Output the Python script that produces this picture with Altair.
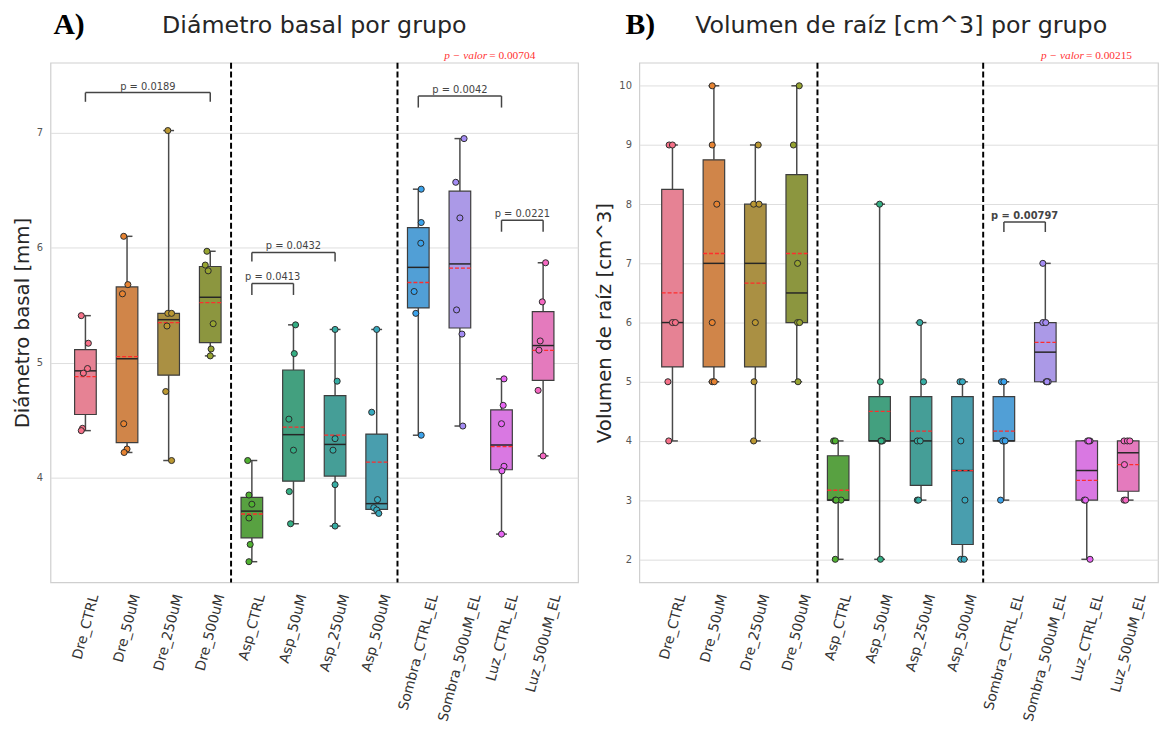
import json
import colorsys
import altair as alt
import pandas as pd

# ---------------- datos ----------------
grupos = ["Dre_CTRL", "Dre_50uM", "Dre_250uM", "Dre_500uM",
          "Asp_CTRL", "Asp_50uM", "Asp_250uM", "Asp_500uM",
          "Sombra_CTRL_EL", "Sombra_500uM_EL", "Luz_CTRL_EL", "Luz_500uM_EL"]

paleta = ['#f77189', '#e68332', '#bb9832', '#97a431', '#50b131', '#34af84',
          '#36ada4', '#38aabf', '#3ba3ec', '#a48cf4', '#e866f4', '#f668c2']

diametro = [
    [5.41, 5.17, 4.95, 4.91, 4.43, 4.41],
    [6.10, 5.68, 5.60, 4.47, 4.25, 4.22],
    [7.02, 5.43, 5.43, 5.32, 4.75, 4.15],
    [5.97, 5.85, 5.80, 5.34, 5.12, 5.06],
    [4.15, 3.85, 3.77, 3.65, 3.42, 3.27],
    [5.33, 5.08, 4.51, 4.24, 3.88, 3.60],
    [5.29, 4.84, 4.34, 4.24, 3.94, 3.58],
    [5.29, 4.57, 3.81, 3.74, 3.72, 3.69],
    [6.51, 6.22, 6.04, 5.62, 5.43, 4.37],
    [6.95, 6.57, 6.26, 5.46, 5.25, 4.45],
    [4.86, 4.63, 4.47, 4.10, 4.06, 3.51],
    [5.87, 5.53, 5.19, 5.11, 4.76, 4.19],
]
diametro_jitter = [
    [-0.10, 0.07, 0.05, -0.05, -0.07, -0.10],
    [-0.08, 0.02, -0.11, -0.08, 0.00, -0.07],
    [-0.02, -0.02, 0.07, -0.04, -0.07, 0.07],
    [-0.08, -0.12, -0.05, 0.07, 0.02, 0.00],
    [-0.10, -0.07, 0.00, -0.07, -0.04, -0.07],
    [0.05, 0.02, -0.11, 0.00, -0.10, -0.07],
    [0.00, 0.05, 0.00, -0.05, 0.00, 0.00],
    [0.00, -0.12, 0.02, -0.07, 0.00, 0.05],
    [0.07, 0.07, 0.06, -0.10, -0.06, 0.07],
    [0.10, -0.10, 0.00, -0.08, 0.05, 0.07],
    [0.06, 0.04, 0.00, 0.06, 0.01, 0.00],
    [0.06, -0.02, -0.07, -0.10, -0.12, 0.00],
]

volumen = [
    [9, 9, 6, 6, 5, 4],
    [10, 9, 8, 6, 5, 5],
    [9, 8, 8, 6, 5, 4],
    [10, 9, 7, 6, 6, 5],
    [4, 4, 3, 3, 3, 2],
    [8, 5, 4, 4, 4, 2],
    [6, 5, 4, 4, 3, 3],
    [5, 5, 4, 3, 2, 2],
    [5, 5, 4, 4, 4, 3],
    [7, 6, 6, 5, 5, 5],
    [4, 4, 4, 3, 3, 2],
    [4, 4, 4, 3.6, 3, 3],
]
volumen_jitter = [
    [-0.08, 0.00, 0.00, 0.07, -0.11, -0.09],
    [-0.04, -0.04, 0.07, -0.04, -0.04, 0.01],
    [0.07, -0.04, 0.09, 0.00, -0.03, -0.04],
    [0.06, -0.08, 0.02, 0.02, 0.07, 0.03],
    [-0.11, -0.07, -0.07, 0.07, -0.05, -0.07],
    [0.00, 0.02, 0.03, 0.07, 0.04, 0.02],
    [-0.03, 0.06, -0.09, -0.02, -0.09, -0.06],
    [-0.06, 0.00, -0.04, 0.06, -0.04, 0.04],
    [-0.06, 0.00, 0.00, -0.03, 0.03, -0.08],
    [-0.06, -0.06, 0.01, 0.02, 0.07, 0.04],
    [0.02, 0.08, 0.05, -0.06, -0.03, 0.08],
    [-0.10, -0.02, 0.04, -0.09, -0.10, -0.06],
]

separadores = [3.5, 7.5]

corchA_x1 = [0, 4, 4, 8, 10]
corchA_x2 = [3, 6, 5, 10, 11]
corchA_y = [7.35, 5.96, 5.69, 7.32, 6.24]
corchA_ybajo = [7.27, 5.88, 5.59, 7.22, 6.14]
corchA_txt = ["p = 0.0189", "p = 0.0432", "p = 0.0413", "p = 0.0042", "p = 0.0221"]

corchB_x1 = [8]
corchB_x2 = [9]
corchB_y = [7.70]
corchB_ybajo = [7.53]
corchB_txt = ["p = 0.00797"]

pvalor_A = "= 0.00704"
pvalor_B = "= 0.00215"


def desaturar(hexcol, prop=0.75):
    r, g, b = [int(hexcol[i:i + 2], 16) / 255 for i in (1, 3, 5)]
    h, l, s = colorsys.rgb_to_hls(r, g, b)
    r, g, b = colorsys.hls_to_rgb(h, l, s * prop)
    return '#%02x%02x%02x' % tuple(int(round(c * 255)) for c in (r, g, b))


caja = [desaturar(c) for c in paleta]
nombres_js = json.dumps(grupos)


def panel(valores, jitter, dom_x, dom_y, ticks_y, ancho, alto, ytitulo,
          titulo, titulo_x, letra, letra_x, pv_txt, pv_x,
          cx1, cx2, cy, cyb, ctxt, negrita):
    filas = []
    for i, g in enumerate(grupos):
        for v, j in zip(valores[i], jitter[i]):
            filas.append(dict(grupo=g, idx=i, valor=v, jit=j,
                              color=paleta[i], caja=caja[i]))
    df = pd.DataFrame(filas)

    xs = alt.Scale(domain=dom_x, nice=False, zero=False)
    ys = alt.Scale(domain=dom_y, nice=False, zero=False)
    eje_x = alt.Axis(
        title=None, values=list(range(12)),
        labelExpr=f"{nombres_js}[datum.value]",
        labelAngle=285, labelAlign='right', labelBaseline='middle',
        labelPadding=12,
        labelOffset=alt.ExprRef(expr=f"length({nombres_js}[datum.value]) * 1.12"),
        labelFontSize=14, labelColor='#333333', labelOverlap=False,
        labelFlush=False, ticks=False, tickSize=0, domain=False, grid=False)
    eje_y = alt.Axis(
        title=ytitulo, values=ticks_y, grid=True, gridColor='#dddddd',
        gridWidth=1, ticks=False, domain=False, labelFontSize=10,
        labelColor='#555555', labelPadding=8, titleFontSize=20,
        titleFontWeight='normal', titleColor='#262626', titlePadding=4)

    def X(campo):
        return alt.X(campo, type='quantitative', scale=xs, axis=eje_x)

    def Y(campo):
        return alt.Y(campo, type='quantitative', scale=ys, axis=eje_y)

    base = alt.Chart(df)
    stats = base.transform_aggregate(
        q1='q1(valor)', q3='q3(valor)', med='median(valor)',
        media='mean(valor)', mn='min(valor)', mx='max(valor)',
        groupby=['idx', 'caja']
    ).transform_calculate(
        xl='datum.idx - 0.26', xr='datum.idx + 0.26',
        cl='datum.idx - 0.13', cr='datum.idx + 0.13')

    bigote = dict(color='#4a4a4a', strokeWidth=1.5)
    w_hi = stats.mark_rule(**bigote).encode(x=X('idx'), y=Y('q3'), y2='mx:Q')
    w_lo = stats.mark_rule(**bigote).encode(x=X('idx'), y=Y('mn'), y2='q1:Q')
    c_hi = stats.mark_rule(**bigote).encode(x=X('cl'), x2='cr:Q', y=Y('mx'))
    c_lo = stats.mark_rule(**bigote).encode(x=X('cl'), x2='cr:Q', y=Y('mn'))
    cajas = stats.mark_rect(stroke='#3d3d3d', strokeWidth=1.2).encode(
        x=X('xl'), x2='xr:Q', y=Y('q1'), y2='q3:Q',
        fill=alt.Fill('caja:N', scale=None))
    mediana = stats.mark_rule(color='#262626', strokeWidth=1.5).encode(
        x=X('xl'), x2='xr:Q', y=Y('med'))
    media = stats.mark_rule(color='#ff2d2d', strokeWidth=1.3,
                            strokeDash=[4, 2]).encode(
        x=X('xl'), x2='xr:Q', y=Y('media'))
    puntos = base.transform_calculate(xp='datum.idx + datum.jit').mark_circle(
        size=38, stroke='#2b2b2b', strokeWidth=1, opacity=1).encode(
        x=X('xp'), y=Y('valor'), fill=alt.Fill('color:N', scale=None))

    sep = alt.Chart(pd.DataFrame({'s': separadores})).mark_rule(
        color='black', strokeWidth=2, strokeDash=[6, 3]).encode(x=X('s'))

    cdf = pd.DataFrame(dict(x1=cx1, x2=cx2, y=cy, yb=cyb, txt=ctxt))
    cdf['xm'] = (cdf['x1'] + cdf['x2']) / 2
    cb = alt.Chart(cdf)
    corch = dict(color='#444444', strokeWidth=1.5)
    ch = cb.mark_rule(**corch).encode(x=X('x1'), x2='x2:Q', y=Y('y'))
    cl_ = cb.mark_rule(**corch).encode(x=X('x1'), y=Y('yb'), y2='y:Q')
    cr_ = cb.mark_rule(**corch).encode(x=X('x2'), y=Y('yb'), y2='y:Q')
    ct = cb.mark_text(fontSize=10, color='#444444', baseline='bottom', dy=-1,
                      fontWeight='bold' if negrita else 'normal').encode(
        x=X('xm'), y=Y('y'), text='txt:N')

    def texto(t, **kw):
        return alt.Chart(pd.DataFrame({'t': [t]})).mark_text(**kw)

    t_tit = texto(titulo, font='DejaVu Sans', fontSize=24, color='#262626',
                  align='center', baseline='alphabetic').encode(
        text='t:N', x=alt.value(titulo_x), y=alt.value(-30))
    t_let = texto(letra, font='Liberation Serif', fontSize=30,
                  fontWeight='bold', color='black', align='left',
                  baseline='alphabetic').encode(
        text='t:N', x=alt.value(letra_x), y=alt.value(-29))
    t_pv1 = texto("p − valor", font='Liberation Serif', fontStyle='italic',
                  fontSize=11.5, color='#ff3333', align='right',
                  baseline='alphabetic').encode(
        text='t:N', x=alt.value(pv_x - 1), y=alt.value(-4))
    t_pv2 = texto(pv_txt, font='Liberation Serif', fontSize=11.5,
                  color='#ff3333', align='left',
                  baseline='alphabetic').encode(
        text='t:N', x=alt.value(pv_x + 1), y=alt.value(-4))

    return alt.layer(w_hi, w_lo, c_hi, c_lo, cajas, mediana, media, puntos,
                     sep, ch, cl_, cr_, ct, t_tit, t_let, t_pv1, t_pv2
                     ).properties(width=ancho, height=alto)


A = panel(diametro, diametro_jitter, [-0.84, 11.84], [3.09, 7.61], [4, 5, 6, 7],
          534, 526, "Diámetro basal [mm]", "Diámetro basal por grupo", 267,
          "A)", 3, pvalor_A, 443,
          corchA_x1, corchA_x2, corchA_y, corchA_ybajo, corchA_txt, False)
B = panel(volumen, volumen_jitter, [-0.8, 11.72], [1.61, 10.39],
          [2, 3, 4, 5, 6, 7, 8, 9, 10],
          525, 526, "Volumen de raíz [cm^3]", "Volumen de raíz [cm^3] por grupo", 265,
          "B)", -14, pvalor_B, 451,
          corchB_x1, corchB_x2, corchB_y, corchB_ybajo, corchB_txt, True)

chart = alt.hconcat(A, B, spacing=62, bounds='flush').properties(
    padding={'left': 4, 'top': -3, 'right': 0, 'bottom': 0}
).configure(font='DejaVu Sans').configure_view(
    stroke='#cfcfcf', strokeWidth=1.2
).configure_axis(labelFont='DejaVu Sans', titleFont='DejaVu Sans')

chart.save("out.html", embed_options={"renderer": "svg", "actions": False})
